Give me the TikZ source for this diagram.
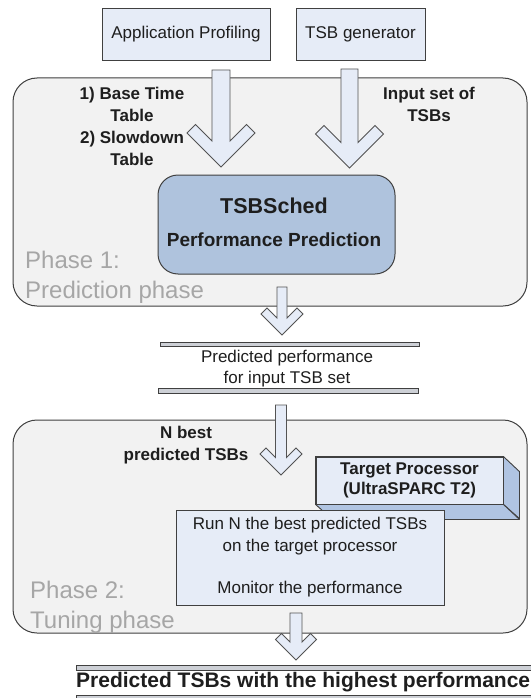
\documentclass[tikz,border=0pt]{standalone}
\usepackage{fontspec}
\setmainfont{Liberation Sans}
\definecolor{boxfill}{HTML}{E6ECF7}
\definecolor{schedfill}{HTML}{AFC3DD}
\definecolor{phasefill}{HTML}{F2F2F2}
\definecolor{edgecol}{HTML}{404040}
\definecolor{phasetext}{HTML}{A6A6A6}
\definecolor{sidefill}{HTML}{B0C4E2}
\definecolor{barfill}{HTML}{CDD0D6}
\definecolor{txt}{HTML}{1E1E1E}
\newcommand\chevarrow[6]{%
  \filldraw[arrowshape] (#1-#4,#2) -- (#1+#4,#2) -- (#1+#4,#3-2*#6-#4)
   -- (#1+#5-#6,#3-#5-#6) -- (#1+#5,#3-#5) -- (#1,#3) -- (#1-#5,#3-#5)
   -- (#1-#5+#6,#3-#5-#6) -- (#1-#4,#3-2*#6-#4) -- cycle;}
\tikzset{
  arrowshape/.style={fill=boxfill, draw=edgecol!90, line width=0.9pt, line join=miter},
  srcbox/.style={draw=edgecol, fill=boxfill, line width=0.9pt, inner sep=0pt,
    font=\fontsize{17}{21}\selectfont, text=txt, align=center},
  phasebox/.style={draw=edgecol, fill=phasefill, line width=1pt, rounded corners=24pt, inner sep=0pt},
  schedbox/.style={draw=edgecol, fill=schedfill, line width=1pt, rounded corners=20pt, inner sep=0pt},
  lbl/.style={font=\bfseries\fontsize{17}{22}\selectfont, text=txt, align=center, inner sep=0pt},
  plain/.style={font=\fontsize{17}{21}\selectfont, text=txt, align=center, inner sep=0pt},
  phasetxt/.style={font=\fontsize{24}{30}\selectfont, text=phasetext, align=left, inner sep=0pt, anchor=west},
  bar/.style={draw=edgecol, fill=barfill, line width=0.8pt},
  sideface/.style={draw=edgecol, fill=sidefill, line width=0.9pt, line join=round}
}
\begin{document}
\begin{tikzpicture}[x=1pt,y=-1pt]
\useasboundingbox (0,0) rectangle (530,698);
\fill[white] (0,0) rectangle (530,698);

% phase containers
\node[phasebox, minimum width=514, minimum height=228] (ph1) at (270,192) {};
\node[phasebox, minimum width=514, minimum height=213] (ph2) at (270,526.5) {};

% source boxes
\node[srcbox, minimum width=168, minimum height=52] (ap) at (186,34) {Application Profiling};
\node[srcbox, minimum width=129, minimum height=52] (gen) at (360.5,34) {TSB generator};

% TSBSched
\node[schedbox, minimum width=237, minimum height=99] (sched) at (276.5,224.5) {};
\node[font=\bfseries\fontsize{21.5}{25}\selectfont, text=txt, inner sep=0pt] (schedtitle) at (274,206) {TSBSched};
\node[font=\bfseries\fontsize{19}{22}\selectfont, text=txt, inner sep=0pt] (schedsub) at (274,240) {Performance Prediction};

% arrows into phase 1
\chevarrow{221}{70}{167}{9}{34}{8.5}
\chevarrow{349.5}{69}{168}{8.5}{34}{8.5}
\node[lbl] (lblA) at (132,126) {1) Base Time\\Table\\2) Slowdown\\Table};
\node[lbl] (lblB) at (429,104) {Input set of\\TSBs};

% phase 1 label
\node[phasetxt] (p1txt) at (25,277) {Phase 1:\\Prediction phase};

% predicted performance document
\chevarrow{282}{287}{335}{5}{21}{6}
\draw[bar] (160,342) rectangle (419,346.5);
\node[plain] (pp) at (287,369) {Predicted performance\\for input TSB set};
\draw[bar] (158,388.5) rectangle (418,393);

% into phase 2
\chevarrow{281}{405}{475}{5.5}{21}{6}
\node[lbl] (lblN) at (186,445) {N best\\predicted TSBs};

% target processor cuboid
\node[srcbox, minimum width=187, minimum height=47, font=\bfseries\fontsize{17}{20}\selectfont] (tp) at (409.5,480.5) {Target Processor\\(UltraSPARC T2)};
\draw[sideface] (tp.north east) -- ++(16,15) -- ++(0,47) -- (tp.south east) -- cycle;
\draw[sideface] (tp.south west) -- (tp.south east) -- ++(16,15) -- ++(-187,0) -- cycle;
\draw[edgecol, line width=0.9pt] (tp.north west) rectangle (tp.south east);

% run box
\node[srcbox, minimum width=268, minimum height=95, font=\fontsize{17}{21.3}\selectfont] (run) at (310,557.5) {Run N the best predicted TSBs\\on the target processor\\\mbox{}\\Monitor the performance};

% phase 2 label
\node[phasetxt] (p2txt) at (30,607) {Phase 2:\\Tuning phase};

% output
\chevarrow{296}{613}{660}{6}{20.5}{6}
\draw[bar] (76,665) rectangle (560,670);
\node[font=\bfseries\fontsize{21}{25}\selectfont, text=txt, inner sep=0pt, anchor=west] (out) at (76,682) {Predicted TSBs with the highest performance};
\draw[bar] (76,695.5) rectangle (560,700);
\end{tikzpicture}
\end{document}
